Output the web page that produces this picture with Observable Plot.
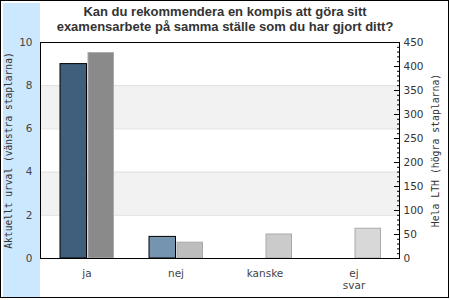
<!DOCTYPE html>
<html>
<head>
<meta charset="utf-8">
<script src="https://cdn.jsdelivr.net/npm/d3@7"></script>
<script src="https://cdn.jsdelivr.net/npm/@observablehq/plot@0.6"></script>
<style>
  body { margin: 0; background: #fff; }
  #wrap { position: relative; width: 450px; height: 300px; overflow: hidden; }
  #border { position: absolute; left: 0; top: 0; width: 447px; height: 296px; border: 1px solid #000; }
  #band { position: absolute; left: 3px; top: 3px; width: 37px; height: 294px; background: #cce8ff; }
  #title { position: absolute; left: 0; top: 4px; width: 450px; text-align: center;
           font: bold 13px "Liberation Sans", Arial, sans-serif; color: #333; line-height: 15px; }
  #chart { position: absolute; left: 0; top: 0; }
  #chart svg { background: transparent !important; }
</style>
</head>
<body>
<div id="wrap">
  <div id="band"></div>
  <div id="border"></div>
  <div id="chart"></div>
  <div id="title">Kan du rekommendera en kompis att göra sitt<br>examensarbete på samma ställe som du har gjort ditt?</div>
</div>
<script>
const categories = ["ja", "nej", "kanske", "ej svar"];
const leftValues = [9, 1, 0, 0];          // Aktuellt urval (vänstra staplarna)
const rightValues = [428, 33, 50, 62];    // Hela LTH (högra staplarna)
const leftTicks = [0, 2, 4, 6, 8, 10];
const rightTicks = [0, 50, 100, 150, 200, 250, 300, 350, 400, 450];
const leftLabel = "Aktuellt urval (vänstra staplarna)";
const rightLabel = "Hela LTH (högra staplarna)";

const leftColors = ["#3f5f7d", "#7594b0", "#3f5f7d", "#7594b0"];
const rightColors = ["#8a8a8a", "#bdbdbd", "#cbcbcb", "#d8d8d8"];
const ratio = 45; // right scale 0–450 mapped onto left scale 0–10

const leftData = categories.map((c, i) => ({cat: c, v: leftValues[i], color: leftColors[i]})).filter(d => d.v > 0);
const rightData = categories.map((c, i) => ({cat: c, v: rightValues[i], color: rightColors[i]}));
const stripes = [{y1: 2, y2: 4}, {y1: 6, y2: 8}];
const minor = d3.range(0, 451, 10).map(v => v / ratio);

const chart = Plot.plot({
  width: 450,
  height: 300,
  marginLeft: 40,
  marginRight: 51,
  marginTop: 42,
  marginBottom: 42,
  style: {fontFamily: "DejaVu Sans", fontSize: "10.5px", color: "#333", background: "transparent"},
  x: {type: "band", domain: categories, padding: 0},
  y: {domain: [0, 10]},
  color: {type: "identity"},
  marks: [
    Plot.rect(stripes, {y1: "y1", y2: "y2", fill: "#f2f2f2"}),
    Plot.ruleY([2, 4, 6, 8], {stroke: "#e0e0e0"}),
    Plot.barY(rightData, {x: "cat", y: d => d.v / ratio, fill: "color", stroke: "#aaaaaa", strokeWidth: 1, insetLeft: 46, insetRight: 17.5}),
    Plot.barY(leftData, {x: "cat", y: "v", fill: "color", stroke: "#000", strokeWidth: 1, insetLeft: 18, insetRight: 44.5}),
    Plot.axisY(leftTicks, {anchor: "left", tickSize: 0, tickPadding: 8, label: null, fill: "#444"}),
    Plot.axisY(minor, {anchor: "right", tickSize: 3, dx: -3, tickFormat: () => "", label: null, stroke: "#000"}),
    Plot.axisY(rightTicks.map(v => v / ratio), {anchor: "right", tickSize: 6, dx: -6, tickFormat: () => "", label: null, stroke: "#000"}),
    Plot.axisY(rightTicks.map(v => v / ratio), {anchor: "right", tickSize: 0, tickPadding: 4, tickFormat: d => String(Math.round(d * ratio)), label: null, fill: "#333"}),
    Plot.axisX({tickSize: 0, tickPadding: 10, lineHeight: 1.15, tickFormat: d => d.replace(" ", "\n"), label: null, fill: "#444"}),
    Plot.text([leftLabel], {frameAnchor: "left", dx: -32, rotate: -90, textAnchor: "middle", fontFamily: "DejaVu Sans Mono", fontSize: 9.6, fill: "#333"}),
    Plot.text([rightLabel], {frameAnchor: "right", dx: 36, rotate: -90, textAnchor: "middle", fontFamily: "DejaVu Sans Mono", fontSize: 9.8, fill: "#333"}),
    Plot.frame({stroke: "#000", strokeWidth: 1})
  ]
});
document.getElementById("chart").appendChild(chart);
</script>
</body>
</html>
